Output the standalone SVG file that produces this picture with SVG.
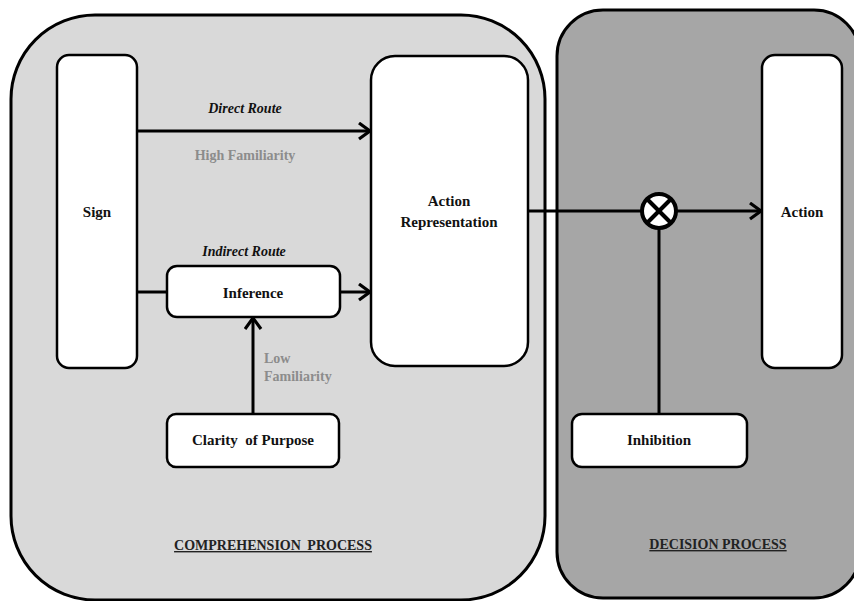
<svg xmlns="http://www.w3.org/2000/svg" width="854" height="601" viewBox="0 0 854 601">
<style>
text{font-family:"Liberation Serif","DejaVu Serif","Times New Roman",serif;font-weight:bold}
.cont{stroke:#000;stroke-width:3}
.box{fill:#fff;stroke:#000;stroke-width:2.5}
.lbl{font-size:15px;fill:#111;text-anchor:middle}
.route{font-style:italic;font-size:14px;fill:#111;text-anchor:middle}
.fam{font-size:14px;fill:#8c8c8c}
.title{font-size:14px;fill:#222;text-anchor:middle;text-decoration:underline}
.conn{stroke:#000;stroke-width:3;fill:none}
</style>
<defs>
<marker id="arr" markerUnits="userSpaceOnUse" markerWidth="16" markerHeight="20" refX="13" refY="9" orient="auto">
<path d="M2,1 L13,9 L2,17" fill="none" stroke="#000" stroke-width="3.2" stroke-linejoin="miter"/>
</marker>
</defs>
<g id="comprehension-process">
<rect class="cont" x="11" y="15" width="534" height="585" rx="84" ry="84" fill="#d9d9d9"/>
<text class="title" x="273" y="550" word-spacing="3">COMPREHENSION PROCESS</text>
</g>
<g id="decision-process">
<rect class="cont" x="557" y="10" width="303" height="588" rx="46" ry="46" fill="#a6a6a6"/>
<text class="title" x="718" y="549">DECISION PROCESS</text>
</g>
<g id="connectors">
<line class="conn" x1="137" y1="131" x2="370" y2="131" marker-end="url(#arr)"/>
<line class="conn" x1="137" y1="292" x2="167" y2="292"/>
<line class="conn" x1="340" y1="292" x2="370" y2="292" marker-end="url(#arr)"/>
<line class="conn" x1="253" y1="414" x2="253" y2="318" marker-end="url(#arr)"/>
<line class="conn" x1="528" y1="211" x2="641" y2="211"/>
<line class="conn" x1="677" y1="211" x2="761" y2="211" marker-end="url(#arr)"/>
<line class="conn" x1="659" y1="229" x2="659" y2="414"/>
<text class="route" x="245" y="113">Direct Route</text>
<text class="fam" x="245" y="160" text-anchor="middle">High Familiarity</text>
<text class="route" x="244" y="256">Indirect Route</text>
<text class="fam" x="264" y="363">Low</text>
<text class="fam" x="264" y="381">Familiarity</text>
</g>
<g id="sign">
<rect class="box" x="57" y="55" width="80" height="313" rx="12" ry="12"/>
<text class="lbl" x="97" y="217">Sign</text>
</g>
<g id="inference">
<rect class="box" x="167" y="266" width="173" height="51" rx="10" ry="10"/>
<text class="lbl" x="253" y="298">Inference</text>
</g>
<g id="clarity-of-purpose">
<rect class="box" x="167" y="414" width="172" height="53" rx="9" ry="9"/>
<text class="lbl" x="253" y="445" xml:space="preserve">Clarity  of Purpose</text>
</g>
<g id="action-representation">
<rect class="box" x="371" y="56" width="157" height="310" rx="24" ry="24"/>
<text class="lbl" x="449" y="206">Action</text>
<text class="lbl" x="449" y="227">Representation</text>
</g>
<g id="combiner">
<circle cx="659" cy="211" r="17" fill="#fff" stroke="#000" stroke-width="4"/>
<line x1="647" y1="199" x2="671" y2="223" stroke="#000" stroke-width="4"/>
<line x1="671" y1="199" x2="647" y2="223" stroke="#000" stroke-width="4"/>
</g>
<g id="action">
<rect class="box" x="762" y="55" width="80" height="313" rx="13" ry="13"/>
<text class="lbl" x="802" y="217">Action</text>
</g>
<g id="inhibition">
<rect class="box" x="572" y="414" width="175" height="53" rx="10" ry="10"/>
<text class="lbl" x="659" y="445">Inhibition</text>
</g>
</svg>
